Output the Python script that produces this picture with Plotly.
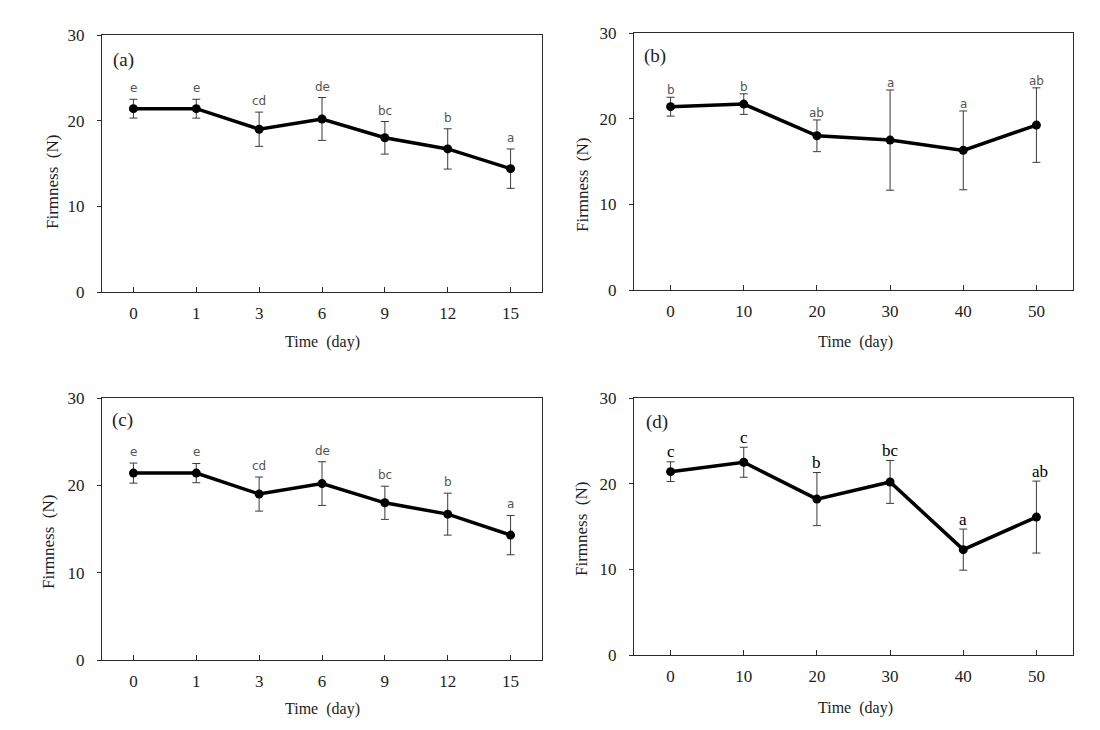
import plotly.graph_objects as go

# The page body has an 8 px margin; the figure is sized to fill the rest.
PAGE_W, PAGE_H, OFF = 1100, 730, 8
W, H = PAGE_W - OFF, PAGE_H - OFF

# ---- data ----
days_short = ["0", "1", "3", "6", "9", "12", "15"]
days_long = [0, 10, 20, 30, 40, 50]

a_mean = [21.4, 21.4, 19.0, 20.2, 18.0, 16.7, 14.4]
a_sd = [1.1, 1.1, 2.0, 2.5, 1.9, 2.35, 2.3]
a_letters = ["e", "e", "cd", "de", "bc", "b", "a"]

b_mean = [21.4, 21.7, 18.0, 17.5, 16.3, 19.25]
b_sd = [1.1, 1.2, 1.85, 5.85, 4.6, 4.35]
b_letters = ["b", "b", "ab", "a", "a", "ab"]

c_mean = [21.4, 21.4, 19.0, 20.2, 18.0, 16.7, 14.3]
c_sd = [1.15, 1.1, 1.95, 2.5, 1.9, 2.4, 2.25]
c_letters = ["e", "e", "cd", "de", "bc", "b", "a"]

d_mean = [21.4, 22.5, 18.2, 20.2, 12.3, 16.1]
d_sd = [1.15, 1.75, 3.1, 2.5, 2.4, 4.2]
d_letters = ["c", "c", "b", "bc", "a", "ab"]

panel_names = ["(a)", "(b)", "(c)", "(d)"]
y_title = "Firmness  (N)"
x_title = "Time  (day)"


# ---- layout geometry (page pixels) ----
def px_x(p):
    return (p - OFF) / W


def px_y(p):
    return 1 - (p - OFF) / H


boxes = {
    1: dict(l=102, r=542, t=35, b=292),
    2: dict(l=634, r=1073, t=33, b=290),
    3: dict(l=102, r=542, t=398, b=660),
    4: dict(l=634, r=1073, t=398, b=655),
}

SERIF = "Liberation Serif, Times New Roman, serif"
SANS = "DejaVu Sans, Verdana, sans-serif"
AXC = "#2a2a2a"

fig = go.Figure()

panels = [
    (1, days_short, a_mean, a_sd, a_letters, "cat"),
    (2, days_long, b_mean, b_sd, b_letters, "num"),
    (3, days_short, c_mean, c_sd, c_letters, "cat"),
    (4, days_long, d_mean, d_sd, d_letters, "num"),
]

annotations = []
for idx, xs, ys, sd, letters, kind in panels:
    sfx = "" if idx == 1 else str(idx)
    fig.add_trace(go.Scatter(
        x=xs, y=ys,
        mode="lines+markers",
        line=dict(color="black", width=3.5),
        marker=dict(color="black", size=9),
        error_y=dict(type="data", array=sd, visible=True,
                     color="#3a3a3a", thickness=1, width=4),
        xaxis="x" + sfx, yaxis="y" + sfx,
        showlegend=False,
    ))
    bx = boxes[idx]
    xaxis = dict(
        domain=[px_x(bx["l"]), px_x(bx["r"])],
        anchor="y" + sfx, automargin=False,
        showline=True, linecolor=AXC, linewidth=1, mirror=True,
        ticks="inside", ticklen=5, tickcolor=AXC, tickwidth=1,
        showgrid=False, zeroline=False,
        tickfont=dict(family=SERIF, size=17, color="#222"),
        ticklabelstandoff=6,
    )
    if kind == "cat":
        xaxis.update(type="category", range=[-0.5, 6.5])
    else:
        xaxis.update(type="linear", range=[-5, 55], tickvals=days_long)
    yaxis = dict(
        domain=[px_y(bx["b"]), px_y(bx["t"])],
        anchor="x" + sfx, automargin=False,
        range=[0, 30], tickvals=[0, 10, 20, 30],
        showline=True, linecolor=AXC, linewidth=1, mirror=True,
        ticks="outside", ticklen=4, tickcolor=AXC, tickwidth=1,
        showgrid=False, zeroline=False,
        tickfont=dict(family=SERIF, size=17, color="#222"),
        ticklabelstandoff=9,
    )
    fig.update_layout(**{"xaxis" + sfx: xaxis, "yaxis" + sfx: yaxis})

    # significance letters
    for i, (xv, m, s, L) in enumerate(zip(xs, ys, sd, letters)):
        if idx == 4:
            font = dict(family=SERIF, size=17, color="black")
            ysh = 10
        elif idx == 2:
            font = dict(family=SANS, size=12, color="#555")
            ysh = 7
        else:
            font = dict(family=SANS, size=12, color="#555")
            ysh = 11
        xpos = i if kind == "cat" else xv
        annotations.append(dict(
            x=xpos, y=m + s, xref="x" + sfx, yref="y" + sfx,
            text=L, showarrow=False, font=font,
            xanchor="center", yanchor="middle", yshift=ysh,
            xshift=4 if (idx == 4 and i == len(xs) - 1) else 0,
        ))

# panel labels
label_pos = [(123, 60), (655, 56), (122, 420), (657, 422)]
for name, (lx, ly) in zip(panel_names, label_pos):
    annotations.append(dict(
        x=px_x(lx), y=px_y(ly), xref="paper", yref="paper",
        text=name, showarrow=False,
        font=dict(family=SERIF, size=19, color="#222"),
        xanchor="center", yanchor="middle",
    ))

# axis titles
ytitle_pos = [(52, 182), (582, 185), (48, 542), (581, 529)]
for (tx, ty) in ytitle_pos:
    annotations.append(dict(
        x=px_x(tx), y=px_y(ty), xref="paper", yref="paper",
        text=y_title, showarrow=False, textangle=-90,
        font=dict(family=SERIF, size=17, color="#222"),
        xanchor="center", yanchor="middle",
    ))
xtitle_pos = [(322, 342), (855, 342), (322, 709), (855, 708)]
for (tx, ty) in xtitle_pos:
    annotations.append(dict(
        x=px_x(tx), y=px_y(ty), xref="paper", yref="paper",
        text=x_title, showarrow=False,
        font=dict(family=SERIF, size=16, color="#222"),
        xanchor="center", yanchor="middle",
    ))

fig.update_layout(
    width=W, height=H,
    margin=dict(l=0, r=0, t=0, b=0, autoexpand=False),
    paper_bgcolor="white", plot_bgcolor="white",
    annotations=annotations,
    showlegend=False,
)

fig.write_html("out.html")
